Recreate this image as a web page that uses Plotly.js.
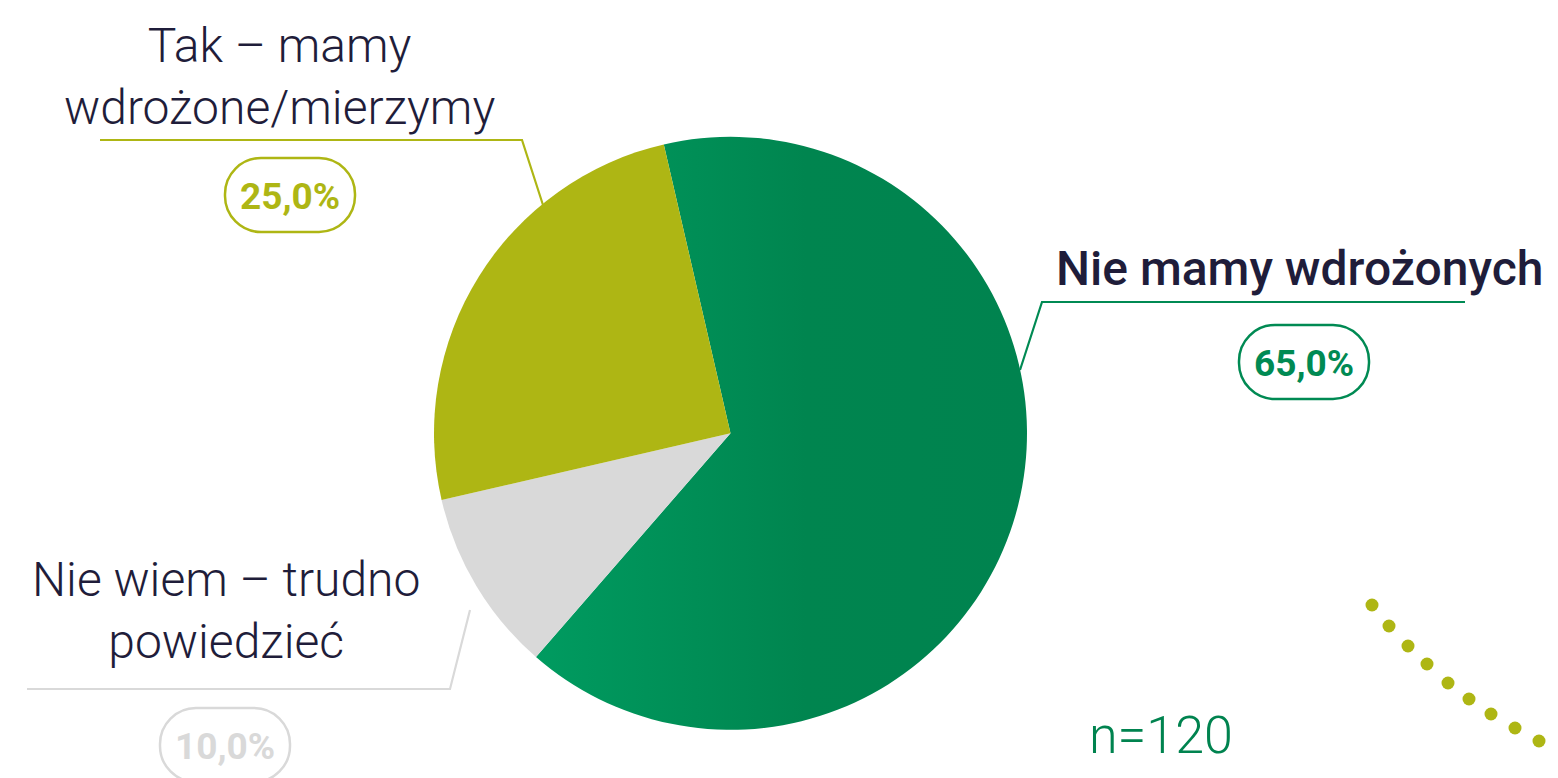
<!DOCTYPE html>
<html>
<head>
<meta charset="utf-8">
<script src="https://cdn.plot.ly/plotly-3.0.1.min.js"></script>
<style>html,body{margin:0;padding:0;background:#fff;}#chart{width:1558px;height:778px;}</style>
</head>
<body>
<div id="chart"></div>
<script>
// ---- data ----
const categories = ["Nie mamy wdrożonych", "Nie wiem – trudno<br>powiedzieć", "Tak – mamy<br>wdrożone/mierzymy"];
const values = [65.0, 10.0, 25.0];
const pctLabels = ["65,0%", "10,0%", "25,0%"];
const sliceColors = ["#008A53", "#D9D9D9", "#AEB614"];
const sampleNote = "n=120";
// decorative dotted arc (bottom-right)
const decoX = [1372, 1389, 1408, 1427, 1448, 1469, 1491, 1515, 1539, 1562];
const decoY = [605, 626, 646, 664, 683, 699, 714, 728, 741, 752];

// ---- layout helpers ----
const W = 1558, H = 778;
const C = {cx: 730.5, cy: 433.3, r: 296.5};
const textColor = "#1F1D3A";

function pill(cx, cy, w, h, r) {
  const x0 = cx - w/2, x1 = cx + w/2, y0 = cy - h/2, y1 = cy + h/2;
  const k = 0.5523 * r;
  return `M ${x0+r},${y0} L ${x1-r},${y0} C ${x1-r+k},${y0} ${x1},${y0+r-k} ${x1},${y0+r} ` +
         `L ${x1},${y1-r} C ${x1},${y1-r+k} ${x1-r+k},${y1} ${x1-r},${y1} ` +
         `L ${x0+r},${y1} C ${x0+r-k},${y1} ${x0},${y1-r+k} ${x0},${y1-r} ` +
         `L ${x0},${y0+r} C ${x0},${y0+r-k} ${x0+r-k},${y0} ${x0+r},${y0} Z`;
}

// label placement per category (pixel positions)
const place = [
  {lx: 1299, ly: 268, size: 48, weight: 500, leader: [[1020,370],[1042,302],[1465,302]], box: [1304, 362], col: "#008A53"},
  {lx: 226, ly: 610, size: 48, weight: 300, leader: [[470,610],[450,689],[27,689]], box: [225, 745], col: "#D9D9D9"},
  {lx: 279, ly: 76, size: 48, weight: 300, leader: [[543,205],[522,140],[100,140]], box: [290, 195], col: "#AEB614"}
];

const annotations = [];
const shapes = [];
place.forEach((p, i) => {
  annotations.push({
    xref: "x", yref: "y", x: p.lx, y: p.ly, text: categories[i], showarrow: false,
    xanchor: "center", yanchor: "middle", align: "center",
    font: {family: "Roboto", size: p.size, weight: p.weight, color: textColor}
  });
  annotations.push({
    xref: "x", yref: "y", x: p.box[0], y: p.box[1] + 1, text: pctLabels[i], showarrow: false,
    xanchor: "center", yanchor: "middle",
    font: {family: "Roboto", size: 37, weight: 700, color: p.col}
  });
  shapes.push({
    type: "path", xref: "x", yref: "y", layer: "above",
    path: "M " + p.leader.map(q => q[0] + "," + q[1]).join(" L "),
    line: {color: p.col, width: 2.2}
  });
  shapes.push({
    type: "path", xref: "x", yref: "y", layer: "above",
    path: pill(p.box[0], p.box[1], 130, 74, 36),
    line: {color: p.col, width: 2.5}, fillcolor: "rgba(0,0,0,0)"
  });
});
annotations.push({
  xref: "x", yref: "y", x: 1161, y: 735, text: sampleNote, showarrow: false,
  xanchor: "center", yanchor: "middle",
  font: {family: "Roboto", size: 52, weight: 300, color: "#00834F"}
});

const data = [
  {
    type: "pie", values: values, labels: categories, sort: false, direction: "clockwise",
    rotation: -13, textinfo: "none", hoverinfo: "none", showlegend: false,
    marker: {colors: sliceColors, line: {width: 0}},
    domain: {x: [(C.cx - C.r)/W, (C.cx + C.r)/W], y: [1 - (C.cy + C.r)/H, 1 - (C.cy - C.r)/H]}
  },
  {
    type: "scatter", mode: "markers", x: decoX, y: decoY, xaxis: "x", yaxis: "y",
    marker: {size: 13, color: "#AEB614"}, hoverinfo: "none", showlegend: false, cliponaxis: false
  }
];

const layout = {
  width: W, height: H, margin: {l: 0, r: 0, t: 0, b: 0},
  paper_bgcolor: "#fff", plot_bgcolor: "rgba(0,0,0,0)",
  xaxis: {range: [0, W], visible: false, fixedrange: true},
  yaxis: {range: [H, 0], visible: false, fixedrange: true},
  annotations: annotations, shapes: shapes
};

Plotly.newPlot("chart", data, layout, {displayModeBar: false, staticPlot: true}).then(() => {
  // horizontal gradient on the large green slice
  const svg = document.querySelector("#chart .main-svg");
  const ns = "http://www.w3.org/2000/svg";
  let defs = svg.querySelector("defs");
  if (!defs) { defs = document.createElementNS(ns, "defs"); svg.insertBefore(defs, svg.firstChild); }
  const g = document.createElementNS(ns, "linearGradient");
  g.setAttribute("id", "greenGrad");
  g.setAttribute("x1", "0"); g.setAttribute("y1", "0"); g.setAttribute("x2", "1"); g.setAttribute("y2", "0");
  [["0", "#009B60"], ["0.55", "#00854F"], ["1", "#00834F"]].forEach(s => {
    const st = document.createElementNS(ns, "stop");
    st.setAttribute("offset", s[0]); st.setAttribute("stop-color", s[1]);
    g.appendChild(st);
  });
  defs.appendChild(g);
  const slice = document.querySelector("#chart .slice path.surface");
  if (slice) slice.style.fill = "url(#greenGrad)";
});
</script>
</body>
</html>
